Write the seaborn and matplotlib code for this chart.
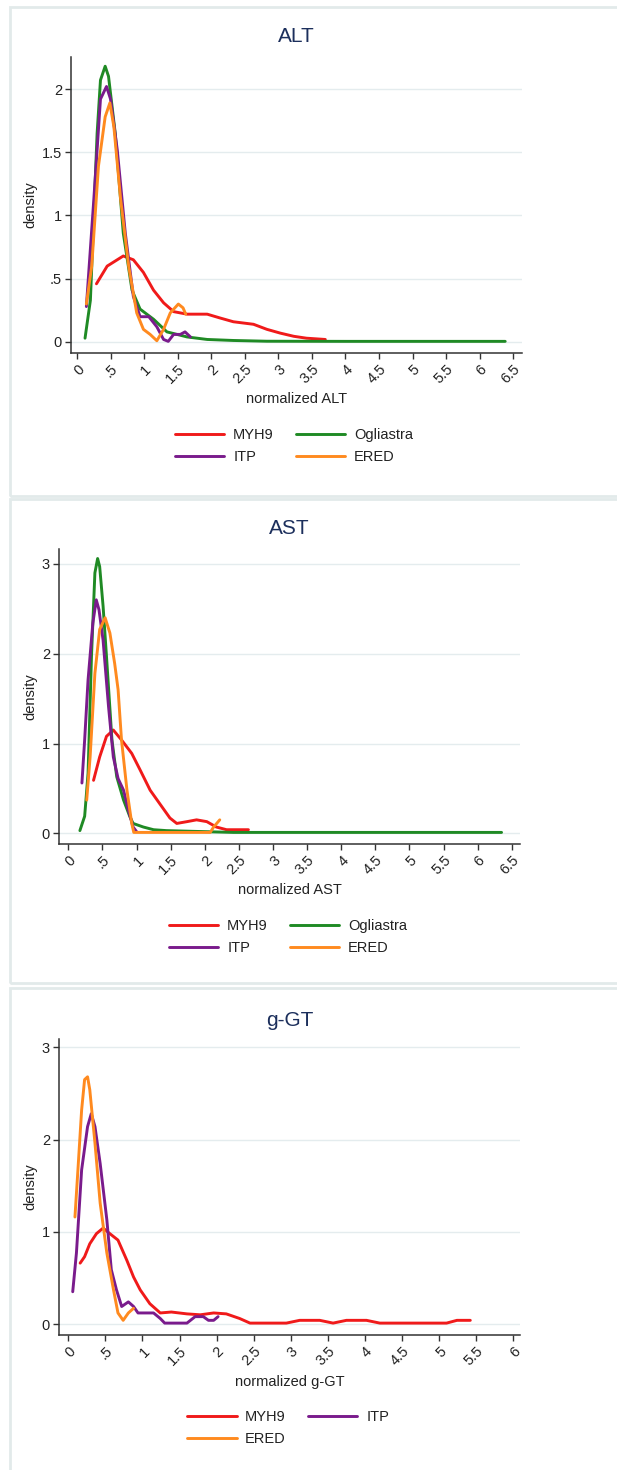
import matplotlib
matplotlib.use("Agg")
import matplotlib.pyplot as plt
from matplotlib.patches import Rectangle
import seaborn as sns
import pandas as pd

# ---------------- data ----------------
series_names = ["MYH9", "Ogliastra", "ITP", "ERED"]
series_colors = {"MYH9": "#f01a1a", "Ogliastra": "#1f8a24",
                 "ITP": "#7a1b8c", "ERED": "#ff8a1f"}

# ALT
alt_myh9_x = [0.29, 0.45, 0.69, 0.84, 0.99, 1.14, 1.29, 1.44, 1.64, 1.94, 2.13, 2.33, 2.63, 2.83, 3.03, 3.23, 3.42, 3.70]
alt_myh9_y = [0.46, 0.60, 0.68, 0.65, 0.55, 0.41, 0.31, 0.24, 0.22, 0.22, 0.19, 0.16, 0.14, 0.10, 0.07, 0.045, 0.03, 0.02]
alt_ogl_x = [0.12, 0.20, 0.30, 0.35, 0.42, 0.47, 0.57, 0.69, 0.82, 0.94, 1.14, 1.34, 1.64, 1.94, 2.33, 2.83, 4.00, 6.38]
alt_ogl_y = [0.03, 0.33, 1.65, 2.07, 2.18, 2.10, 1.65, 0.86, 0.41, 0.26, 0.18, 0.08, 0.04, 0.02, 0.012, 0.006, 0.005, 0.005]
alt_itp_x = [0.14, 0.25, 0.35, 0.44, 0.50, 0.60, 0.72, 0.84, 0.94, 1.07, 1.19, 1.29, 1.36, 1.44, 1.54, 1.61, 1.69]
alt_itp_y = [0.28, 1.12, 1.92, 2.02, 1.92, 1.52, 0.86, 0.36, 0.20, 0.20, 0.12, 0.02, 0.005, 0.06, 0.06, 0.08, 0.04]
alt_ered_x = [0.14, 0.22, 0.32, 0.42, 0.49, 0.55, 0.65, 0.77, 0.89, 0.99, 1.09, 1.19, 1.29, 1.39, 1.51, 1.58, 1.62]
alt_ered_y = [0.30, 0.60, 1.39, 1.78, 1.89, 1.70, 1.13, 0.60, 0.23, 0.10, 0.06, 0.01, 0.10, 0.23, 0.30, 0.27, 0.22]

# AST
ast_myh9_x = [0.37, 0.46, 0.56, 0.66, 0.78, 0.93, 1.05, 1.20, 1.34, 1.49, 1.59, 1.74, 1.88, 2.03, 2.17, 2.32, 2.64]
ast_myh9_y = [0.59, 0.85, 1.08, 1.15, 1.04, 0.89, 0.71, 0.48, 0.33, 0.17, 0.11, 0.13, 0.15, 0.13, 0.07, 0.04, 0.04]
ast_ogl_x = [0.17, 0.24, 0.29, 0.34, 0.39, 0.43, 0.46, 0.51, 0.56, 0.64, 0.71, 0.81, 0.90, 0.95, 1.10, 1.25, 1.44, 1.93, 2.42, 6.35]
ast_ogl_y = [0.03, 0.19, 0.67, 1.97, 2.90, 3.06, 2.97, 2.53, 1.97, 1.04, 0.63, 0.37, 0.19, 0.11, 0.07, 0.04, 0.03, 0.02, 0.01, 0.01]
ast_itp_x = [0.20, 0.24, 0.29, 0.36, 0.41, 0.45, 0.51, 0.59, 0.66, 0.73, 0.81, 0.88, 0.95, 1.00]
ast_itp_y = [0.56, 1.04, 1.71, 2.34, 2.60, 2.49, 2.15, 1.41, 0.85, 0.61, 0.48, 0.26, 0.07, 0.02]
ast_ered_x = [0.27, 0.32, 0.39, 0.46, 0.54, 0.61, 0.68, 0.73, 0.78, 0.86, 0.93, 0.96, 1.50, 2.08, 2.13, 2.22]
ast_ered_y = [0.37, 0.85, 1.78, 2.27, 2.40, 2.23, 1.89, 1.60, 1.04, 0.48, 0.11, 0.01, 0.01, 0.01, 0.07, 0.15]

# g-GT
ggt_myh9_x = [0.16, 0.22, 0.29, 0.38, 0.47, 0.56, 0.67, 0.79, 0.88, 0.97, 1.10, 1.24, 1.39, 1.60, 1.78, 1.96, 2.13, 2.31,
              2.45, 2.94, 3.12, 3.39, 3.57, 3.75, 4.02, 4.20, 5.10, 5.24, 5.42]
ggt_myh9_y = [0.66, 0.73, 0.87, 0.98, 1.04, 0.98, 0.91, 0.69, 0.51, 0.37, 0.22, 0.12, 0.13, 0.11, 0.10, 0.12, 0.11, 0.06,
              0.01, 0.01, 0.04, 0.04, 0.01, 0.04, 0.04, 0.01, 0.01, 0.04, 0.04]
ggt_itp_x = [0.06, 0.11, 0.18, 0.26, 0.31, 0.36, 0.43, 0.52, 0.58, 0.65, 0.72, 0.81, 0.88, 0.94, 1.15, 1.24, 1.30, 1.60,
             1.71, 1.82, 1.89, 1.96, 2.02]
ggt_itp_y = [0.35, 0.77, 1.67, 2.14, 2.28, 2.14, 1.74, 1.13, 0.59, 0.37, 0.19, 0.24, 0.19, 0.12, 0.12, 0.06, 0.01, 0.01,
             0.08, 0.08, 0.04, 0.04, 0.08]
ggt_ered_x = [0.09, 0.13, 0.18, 0.22, 0.26, 0.29, 0.36, 0.43, 0.52, 0.61, 0.67, 0.74, 0.81, 0.88]
ggt_ered_y = [1.16, 1.67, 2.32, 2.65, 2.68, 2.54, 1.96, 1.31, 0.77, 0.37, 0.12, 0.04, 0.12, 0.17]

alt_xticks = [0, 0.5, 1, 1.5, 2, 2.5, 3, 3.5, 4, 4.5, 5, 5.5, 6, 6.5]
alt_xticklabels = ["0", ".5", "1", "1.5", "2", "2.5", "3", "3.5", "4", "4.5", "5", "5.5", "6", "6.5"]
alt_yticks = [0, 0.5, 1, 1.5, 2]
alt_yticklabels = ["0", ".5", "1", "1.5", "2"]
ast_yticks = [0, 1, 2, 3]
ast_yticklabels = ["0", "1", "2", "3"]
ggt_xticks = [0, 0.5, 1, 1.5, 2, 2.5, 3, 3.5, 4, 4.5, 5, 5.5, 6]
ggt_xticklabels = ["0", ".5", "1", "1.5", "2", "2.5", "3", "3.5", "4", "4.5", "5", "5.5", "6"]

# ---------------- drawing ----------------
sns.set_theme(style="white")
plt.rcParams["font.family"] = ["Liberation Sans", "DejaVu Sans"]

W, H = 617, 1470
fig = plt.figure(figsize=(W / 100, H / 100), dpi=100)
fig.patch.set_facecolor("white")

def fr(px_left, px_top, px_right, px_bottom):
    return [px_left / W, 1 - px_bottom / H, (px_right - px_left) / W, (px_bottom - px_top) / H]

# panel frames (outline only)
for (t, b) in [(7, 496), (499, 983), (988, 1475)]:
    fig.patches.append(Rectangle((10 / W, 1 - b / H), (W + 5 - 10) / W, (b - t) / H,
                                 transform=fig.transFigure, fill=False,
                                 edgecolor="#e2eaea", linewidth=2.0, zorder=-5))

TITLE_C = "#1c2f5c"
TEXT_C = "#222222"
GRID_C = "#e4ecee"
TICK_FS = 10.5
LAB_FS = 10.5

def panel(rect, xlim, ylim, xticks, xlabels, yticks, ylabels, title, xlabel, data, title_y, xlabel_y,
          legend_center, legend_order):
    ax = fig.add_axes(rect)
    ax.patch.set_alpha(0.0)
    for name, xs, ys in data:
        df = pd.DataFrame({"x": xs, "y": ys})
        sns.lineplot(data=df, x="x", y="y", ax=ax, color=series_colors[name], lw=2.1,
                     sort=False, estimator=None, label=name, legend=False)
    ax.set_xlim(*xlim)
    ax.set_ylim(*ylim)
    ax.set_xticks(xticks)
    ax.set_xticklabels(xlabels, rotation=45, ha="right", va="top", rotation_mode="anchor",
                       fontsize=TICK_FS, color=TEXT_C)
    ax.set_yticks(yticks)
    ax.set_yticklabels(ylabels, fontsize=TICK_FS, color=TEXT_C)
    ax.set_xlabel("")
    ax.set_ylabel("")
    for yt in yticks:
        ax.axhline(yt, color=GRID_C, lw=1.0, zorder=0)
    for s in ["top", "right"]:
        ax.spines[s].set_visible(False)
    for s in ["left", "bottom"]:
        ax.spines[s].set_color("#333333")
        ax.spines[s].set_linewidth(1.1)
    ax.tick_params(axis="both", direction="out", length=4, width=1.0, color="#333333",
                   bottom=True, left=True, pad=2.5)
    # texts
    cx = rect[0] + rect[2] / 2
    fig.text(cx, 1 - title_y / H, title, ha="center", va="center", fontsize=15, color=TITLE_C)
    fig.text(cx, 1 - xlabel_y / H, xlabel, ha="center", va="center", fontsize=LAB_FS, color=TEXT_C)
    fig.text(30 / W, rect[1] + rect[3] * 0.5, "density", rotation=90, ha="center", va="center",
             fontsize=LAB_FS, color=TEXT_C)
    handles, labels = ax.get_legend_handles_labels()
    hmap = dict(zip(labels, handles))
    fig.legend([hmap[n] for n in legend_order], legend_order, ncol=2, frameon=False,
               loc="center", bbox_to_anchor=(legend_center[0] / W, 1 - legend_center[1] / H),
               fontsize=LAB_FS, handlelength=3.4, handletextpad=0.6, columnspacing=1.5,
               labelspacing=0.5, labelcolor=TEXT_C)
    return ax

panel(fr(71, 57, 522, 353), (-0.089, 6.63), (-0.087, 2.253), alt_xticks, alt_xticklabels,
      alt_yticks, alt_yticklabels, "ALT", "normalized ALT",
      [("MYH9", alt_myh9_x, alt_myh9_y), ("Ogliastra", alt_ogl_x, alt_ogl_y),
       ("ITP", alt_itp_x, alt_itp_y), ("ERED", alt_ered_x, alt_ered_y)],
      37, 399, (294, 446), ["MYH9", "ITP", "Ogliastra", "ERED"])

panel(fr(59, 549, 520, 844), (-0.136, 6.62), (-0.119, 3.166), alt_xticks, alt_xticklabels,
      ast_yticks, ast_yticklabels, "AST", "normalized AST",
      [("MYH9", ast_myh9_x, ast_myh9_y), ("Ogliastra", ast_ogl_x, ast_ogl_y),
       ("ITP", ast_itp_x, ast_itp_y), ("ERED", ast_ered_x, ast_ered_y)],
      528, 890, (288, 937), ["MYH9", "ITP", "Ogliastra", "ERED"])

panel(fr(59, 1039, 520, 1335), (-0.125, 6.09), (-0.119, 3.09), ggt_xticks, ggt_xticklabels,
      ast_yticks, ast_yticklabels, "g-GT", "normalized g-GT",
      [("MYH9", ggt_myh9_x, ggt_myh9_y), ("ITP", ggt_itp_x, ggt_itp_y),
       ("ERED", ggt_ered_x, ggt_ered_y)],
      1020, 1382, (288, 1428), ["MYH9", "ERED", "ITP"])

fig.savefig("out.png", dpi=100, facecolor="white")
